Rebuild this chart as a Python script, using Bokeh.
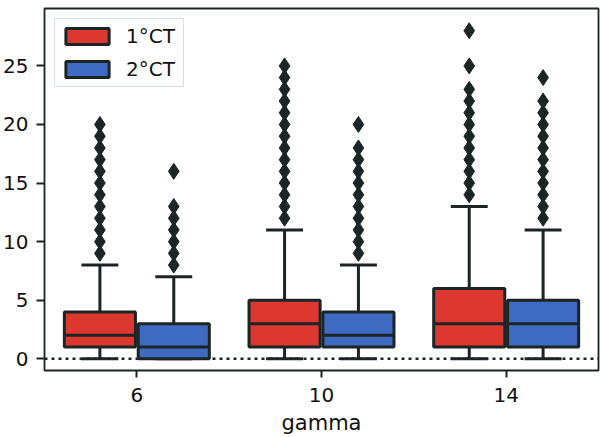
from bokeh.plotting import figure
from bokeh.models import ColumnDataSource, Span, FixedTicker, Legend, LegendItem, Range1d
from bokeh.embed import file_html
from bokeh.resources import INLINE

# ---------------- data ----------------
groups = ["6", "10", "14"]
hues = ["1°CT", "2°CT"]
hue_colors = ["#dc382f", "#3e6bc1"]
x_label = "gamma"

ct1_low = [0, 0, 0]
ct1_q1 = [1, 1, 1]
ct1_med = [2, 3, 3]
ct1_q3 = [4, 5, 6]
ct1_high = [8, 11, 13]
ct1_out = [
    [9, 10, 11, 12, 13, 14, 15, 16, 17, 18, 19, 20],
    [12, 13, 14, 15, 16, 17, 18, 19, 20, 21, 22, 23, 24, 25],
    [14, 15, 16, 17, 18, 19, 20, 21, 22, 23, 25, 28],
]

ct2_low = [0, 0, 0]
ct2_q1 = [0, 1, 1]
ct2_med = [1, 2, 3]
ct2_q3 = [3, 4, 5]
ct2_high = [7, 8, 11]
ct2_out = [
    [8, 9, 10, 11, 12, 13, 16],
    [9, 10, 11, 12, 13, 14, 15, 16, 17, 18, 20],
    [12, 13, 14, 15, 16, 17, 18, 19, 20, 21, 22, 24],
]

y_ticks = [0, 5, 10, 15, 20, 25]
zero_line = 0

stats = [
    (ct1_low, ct1_q1, ct1_med, ct1_q3, ct1_high, ct1_out),
    (ct2_low, ct2_q1, ct2_med, ct2_q3, ct2_high, ct2_out),
]

# ---------------- styling ----------------
FONT = "DejaVu Sans"
EDGE = "#1b2525"
TXT = "#111111"
BOX_W = 0.385
CAP_W = 0.2
OFFSETS = [-0.2, 0.2]
Y0, Y1 = -1.0, 29.9

p = figure(width=600, height=437, output_backend="svg", toolbar_location=None,
           x_range=Range1d(-0.5, 2.5), y_range=Range1d(Y0, Y1),
           min_border_left=42, min_border_right=2, min_border_top=8, min_border_bottom=67)
p.xgrid.visible = False
p.ygrid.visible = False
p.background_fill_color = "white"
p.border_fill_color = "white"
p.outline_line_color = EDGE
p.outline_line_width = 1.8

p.add_layout(Span(location=zero_line, dimension="width", line_color=EDGE,
                  line_width=2.5, line_dash="3 4", level="underlay"))

box_renderers = []
for h, (low, q1, med, q3, high, outs) in enumerate(stats):
    xs = [i + OFFSETS[h] for i in range(len(groups))]
    src = ColumnDataSource(dict(x=xs, low=low, q1=q1, med=med, q3=q3, high=high,
                                cl=[x - CAP_W / 2 for x in xs], cr=[x + CAP_W / 2 for x in xs],
                                bl=[x - BOX_W / 2 for x in xs], br=[x + BOX_W / 2 for x in xs]))
    # whiskers
    p.segment(x0="x", y0="q3", x1="x", y1="high", source=src, line_color=EDGE, line_width=3)
    p.segment(x0="x", y0="low", x1="x", y1="q1", source=src, line_color=EDGE, line_width=3)
    # caps
    p.segment(x0="cl", y0="high", x1="cr", y1="high", source=src, line_color=EDGE, line_width=3)
    p.segment(x0="cl", y0="low", x1="cr", y1="low", source=src, line_color=EDGE, line_width=3)
    # boxes
    r = p.vbar(x="x", top="q3", bottom="q1", width=BOX_W, source=src,
               fill_color=hue_colors[h], line_color=EDGE, line_width=3)
    box_renderers.append(r)
    # medians
    p.segment(x0="bl", y0="med", x1="br", y1="med", source=src, line_color=EDGE, line_width=3)
    # outliers
    ox, oy = [], []
    for i, vals in enumerate(outs):
        ox += [xs[i]] * len(vals)
        oy += vals
    p.scatter(x=ox, y=oy, marker="diamond", size=16, fill_color=EDGE, line_color=EDGE,
              line_width=1)

# axes
for ax in (p.xaxis[0], p.yaxis[0]):
    ax.axis_line_color = None
    ax.major_tick_line_color = EDGE
    ax.major_tick_line_width = 2
    ax.major_tick_in = 0
    ax.minor_tick_line_color = None
    ax.major_label_text_font = FONT
    ax.major_label_text_font_size = "20px"
    ax.major_label_text_color = TXT

p.xaxis.ticker = FixedTicker(ticks=list(range(len(groups))))
p.xaxis.major_label_overrides = {i: g for i, g in enumerate(groups)}
p.xaxis.major_tick_out = 7
p.xaxis.major_label_standoff = 10
p.xaxis.axis_label = x_label
p.xaxis.axis_label_text_font = FONT
p.xaxis.axis_label_text_font_size = "21px"
p.xaxis.axis_label_text_font_style = "normal"
p.xaxis.axis_label_text_color = TXT
p.xaxis.axis_label_standoff = 6

p.yaxis.ticker = FixedTicker(ticks=y_ticks)
p.yaxis.major_tick_out = 8
p.yaxis.major_label_standoff = 8

legend = Legend(items=[LegendItem(label=hues[k], renderers=[box_renderers[k]]) for k in range(2)],
                location="top_left")
legend.margin = 10
legend.padding = 5
legend.spacing = 9
legend.glyph_width = 54
legend.glyph_height = 20
legend.label_standoff = 12
legend.label_height = 24
legend.label_width = 52
legend.label_text_font = FONT
legend.label_text_font_size = "20px"
legend.label_text_color = TXT
legend.border_line_color = "#b3c9c3"
legend.border_line_width = 1.5
legend.background_fill_color = "white"
legend.background_fill_alpha = 0.85
p.add_layout(legend)

open("out.html", "w").write(file_html(p, INLINE))
